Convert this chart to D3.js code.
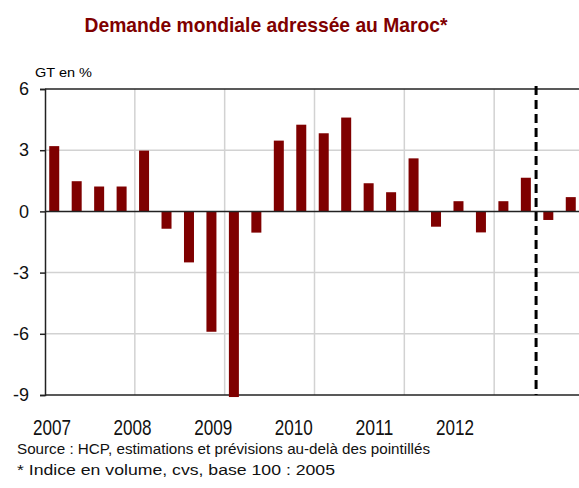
<!DOCTYPE html>
<html>
<head>
<meta charset="utf-8">
<script src="https://cdn.jsdelivr.net/npm/d3@7"></script>
<style>
  body { margin: 0; background: #fff; }
  text { font-family: Arial, "Liberation Sans", sans-serif; }
</style>
</head>
<body>
<div id="chart"></div>
<script>
// quarterly data, 2007Q1 - 2012Q4
const quarters = [
    "2007T1", "2007T2", "2007T3", "2007T4",
    "2008T1", "2008T2", "2008T3", "2008T4",
    "2009T1", "2009T2", "2009T3", "2009T4",
    "2010T1", "2010T2", "2010T3", "2010T4",
    "2011T1", "2011T2", "2011T3", "2011T4",
    "2012T1", "2012T2", "2012T3", "2012T4"
];
const values = [
    3.2, 1.48, 1.22, 1.22,
    2.98, -0.85, -2.5, -5.9,
    -9.1, -1.04, 3.47, 4.25,
    3.83, 4.6, 1.38, 0.94,
    2.6, -0.75, 0.5, -1.03,
    0.5, 1.65, -0.42, 0.7
];
const years = ["2007", "2008", "2009", "2010", "2011", "2012"];
const yTicks = [6, 3, 0, -3, -6, -9];
// forecasts start after this quarter
const lastObserved = "2012T2";

const W = 579, H = 488;
const margin = {top: 89, left: 45};
const plotW = 539, plotH = 306;
const barColor = "#7f0000";

const svg = d3.select("#chart").append("svg")
    .attr("width", W)
    .attr("height", H);

// title
svg.append("text")
    .attr("x", 266)
    .attr("y", 32)
    .attr("text-anchor", "middle")
    .attr("font-size", 21)
    .attr("font-weight", "bold")
    .attr("fill", "#7f0000")
    .attr("textLength", 363)
    .attr("lengthAdjust", "spacingAndGlyphs")
    .text("Demande mondiale adressée au Maroc*");

svg.append("text")
    .attr("x", 35)
    .attr("y", 77)
    .attr("font-size", 13)
    .attr("textLength", 57)
    .attr("lengthAdjust", "spacingAndGlyphs")
    .text("GT en %");

const g = svg.append("g")
    .attr("transform", `translate(${margin.left},${margin.top})`);

// scales
const x = d3.scaleBand()
    .domain(quarters)
    .range([0, plotW]);

const y = d3.scaleLinear()
    .domain([-9, 6])
    .range([plotH, 0]);

const xYear = d3.scalePoint()
    .domain(years)
    .range([7, 410]);

// horizontal grid
g.selectAll(".hgrid")
    .data(yTicks.filter(d => d !== 0 && d !== 6 && d !== -9))
    .enter().append("line")
    .attr("class", "hgrid")
    .attr("x1", 0).attr("x2", plotW)
    .attr("y1", d => y(d)).attr("y2", d => y(d))
    .attr("stroke", "#d2d2d2")
    .attr("stroke-width", 1.5);

// vertical grid at year starts
g.selectAll(".vgrid")
    .data(years.slice(1))
    .enter().append("line")
    .attr("class", "vgrid")
    .attr("x1", d => x(d + "T1")).attr("x2", d => x(d + "T1"))
    .attr("y1", 0).attr("y2", plotH)
    .attr("stroke", "#d2d2d2")
    .attr("stroke-width", 1.5);

// top and bottom border
g.selectAll(".border")
    .data([6, -9])
    .enter().append("line")
    .attr("x1", 0).attr("x2", plotW)
    .attr("y1", d => y(d)).attr("y2", d => y(d))
    .attr("stroke", "#222")
    .attr("stroke-width", 1.5);

// bars
const barW = 10;
g.selectAll(".bar")
    .data(values)
    .enter().append("rect")
    .attr("class", "bar")
    .attr("x", (d, i) => x(quarters[i]) + (x.bandwidth() - barW) / 2 - 2)
    .attr("width", barW)
    .attr("y", d => y(Math.max(0, d)))
    .attr("height", d => Math.abs(y(d) - y(0)))
    .attr("fill", barColor);

// zero line
g.append("line")
    .attr("x1", 0).attr("x2", plotW)
    .attr("y1", y(0)).attr("y2", y(0))
    .attr("stroke", "#222")
    .attr("stroke-width", 1.5);

// y axis (plain hyphen for negatives, like the original)
const yAxis = d3.axisLeft(y)
    .tickValues(yTicks)
    .tickSize(5)
    .tickPadding(11)
    .tickFormat(d => String(d));

const yG = g.append("g").call(yAxis);
yG.select(".domain").attr("stroke", "#222").attr("stroke-width", 1.5);
yG.selectAll(".tick line").attr("stroke", "#222").attr("stroke-width", 1.5);
yG.selectAll(".tick text")
    .attr("font-size", 18)
    .attr("fill", "#111")
    .style("font-family", "Arial, 'Liberation Sans', sans-serif");

// forecast separator
const xSep = x(lastObserved) + x.bandwidth() - 3;
g.append("line")
    .attr("x1", xSep).attr("x2", xSep)
    .attr("y1", -3).attr("y2", plotH)
    .attr("stroke", "#000")
    .attr("stroke-width", 3)
    .attr("stroke-dasharray", "9,5");

// year labels
g.selectAll(".year")
    .data(years)
    .enter().append("text")
    .attr("class", "year")
    .attr("x", d => xYear(d))
    .attr("y", plotH + 40)
    .attr("text-anchor", "middle")
    .attr("font-size", 22)
    .attr("fill", "#111")
    .attr("textLength", 38)
    .attr("lengthAdjust", "spacingAndGlyphs")
    .text(d => d);

// notes
svg.append("text")
    .attr("x", 17)
    .attr("y", 454)
    .attr("font-size", 14)
    .attr("fill", "#111")
    .attr("textLength", 413)
    .attr("lengthAdjust", "spacingAndGlyphs")
    .text("Source : HCP, estimations et prévisions au-delà des pointillés");

svg.append("text")
    .attr("x", 17)
    .attr("y", 475)
    .attr("font-size", 14)
    .attr("fill", "#111")
    .attr("textLength", 318)
    .attr("lengthAdjust", "spacingAndGlyphs")
    .text("* Indice en volume, cvs, base 100 : 2005");
</script>
</body>
</html>
